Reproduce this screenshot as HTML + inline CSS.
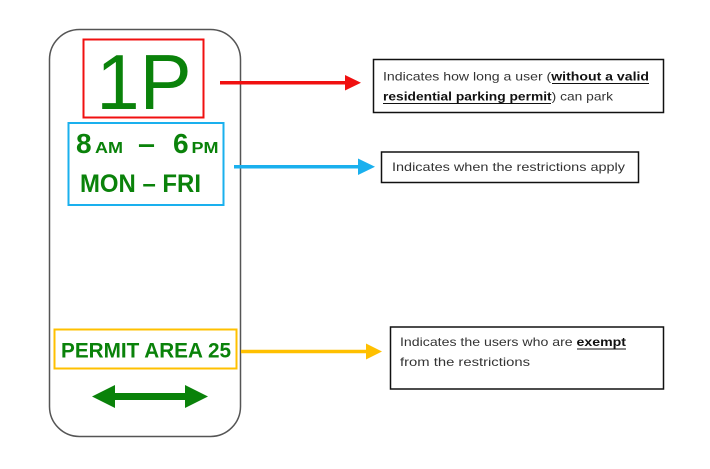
<!DOCTYPE html>
<html><head><meta charset="utf-8"><style>
html,body{margin:0;padding:0;background:#fff;}
svg{display:block;}
</style></head><body>
<svg width="710" height="469" viewBox="0 0 710 469" xmlns="http://www.w3.org/2000/svg">
<rect x="0" y="0" width="710" height="469" fill="#fff"/>
<!-- sign outline -->
<rect x="49.5" y="29.5" width="191" height="407" rx="30" ry="30" fill="#fff" stroke="#555" stroke-width="1.5"/>
<!-- red box -->
<rect x="83.5" y="39.5" width="120" height="78" fill="none" stroke="#f01010" stroke-width="2"/>
<text x="144" y="109" font-family="Liberation Sans, sans-serif" font-size="78" fill="#0a820a" text-anchor="middle">1P</text>
<!-- blue box -->
<rect x="68.5" y="123" width="155" height="82" fill="none" stroke="#1ab0ee" stroke-width="2"/>
<g font-family="Liberation Sans, sans-serif" font-weight="bold" fill="#0a820a">
<text x="76" y="153" font-size="28">8</text>
<text x="95" y="153" font-size="16" textLength="28" lengthAdjust="spacingAndGlyphs">AM</text>
<text x="138" y="153" font-size="28" textLength="17" lengthAdjust="spacingAndGlyphs">–</text>
<text x="173" y="153" font-size="28">6</text>
<text x="191.5" y="153" font-size="16" textLength="27" lengthAdjust="spacingAndGlyphs">PM</text>
<text x="80" y="192" font-size="25" textLength="121" lengthAdjust="spacingAndGlyphs">MON – FRI</text>
</g>
<!-- yellow box -->
<rect x="54.5" y="329.5" width="182" height="39" fill="none" stroke="#ffc000" stroke-width="2"/>
<text x="61" y="357.3" font-family="Liberation Sans, sans-serif" font-weight="bold" font-size="21" fill="#0a820a" textLength="170" lengthAdjust="spacingAndGlyphs">PERMIT AREA 25</text>
<!-- green double arrow -->
<polygon points="92,396.5 115,385 115,393 185,393 185,385 208,396.5 185,408 185,400 115,400 115,408" fill="#0a820a"/>
<!-- red arrow -->
<line x1="220" y1="82.7" x2="347" y2="82.7" stroke="#f01010" stroke-width="3.5"/>
<polygon points="345,75 361,82.7 345,90.5" fill="#f01010"/>
<!-- blue arrow -->
<line x1="234" y1="166.7" x2="360" y2="166.7" stroke="#1ab0ee" stroke-width="3.5"/>
<polygon points="358,158.5 375,166.7 358,175" fill="#1ab0ee"/>
<!-- yellow arrow -->
<line x1="241" y1="351.5" x2="368" y2="351.5" stroke="#ffc000" stroke-width="3.5"/>
<polygon points="366,343.5 382,351.5 366,359.5" fill="#ffc000"/>
<!-- text boxes -->
<rect x="373.5" y="59.5" width="290" height="53" fill="#fff" stroke="#111" stroke-width="1.5"/>
<rect x="381.5" y="152" width="257" height="30.5" fill="#fff" stroke="#111" stroke-width="1.5"/>
<rect x="390.5" y="327" width="273" height="62" fill="#fff" stroke="#111" stroke-width="1.5"/>
<g font-family="Liberation Sans, sans-serif" font-size="12" fill="#333">
<text x="383" y="80.5" textLength="266" lengthAdjust="spacingAndGlyphs">Indicates how long a user (<tspan font-weight="bold" fill="#111">without a valid</tspan></text>
<line x1="552" y1="83.5" x2="649" y2="83.5" stroke="#111" stroke-width="1"/>
<text x="383" y="100.5" textLength="230" lengthAdjust="spacingAndGlyphs"><tspan font-weight="bold" fill="#111">residential parking permit</tspan>) can park</text>
<line x1="383" y1="103.5" x2="551" y2="103.5" stroke="#111" stroke-width="1"/>
<text x="392" y="171" textLength="233" lengthAdjust="spacingAndGlyphs">Indicates when the restrictions apply</text>
<text x="400" y="346" textLength="226" lengthAdjust="spacingAndGlyphs">Indicates the users who are <tspan font-weight="bold" fill="#111">exempt</tspan></text>
<line x1="577" y1="349" x2="626" y2="349" stroke="#111" stroke-width="1"/>
<text x="400" y="366" textLength="130" lengthAdjust="spacingAndGlyphs">from the restrictions</text>
</g>
</svg>
</body></html>
